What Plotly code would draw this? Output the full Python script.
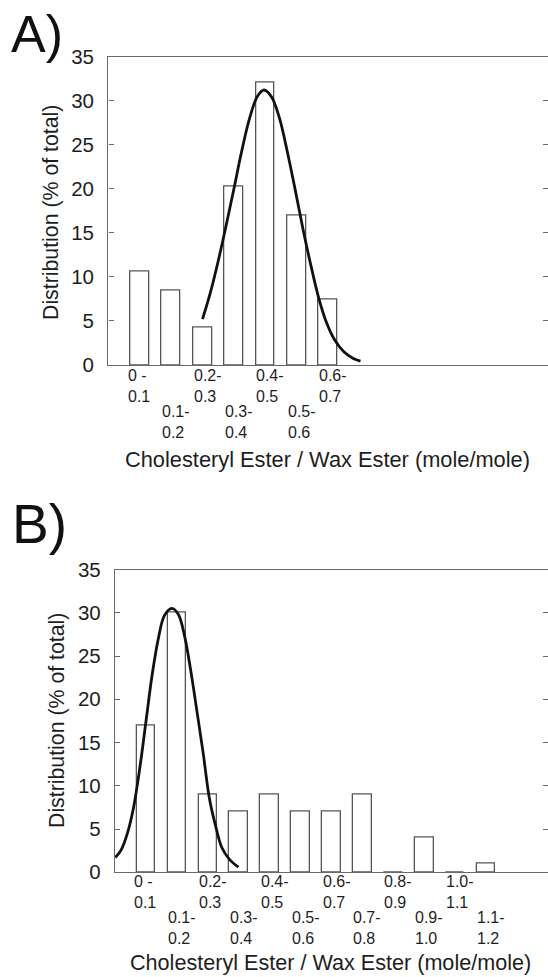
import plotly.graph_objects as go

# ---------------- data ----------------
bin_labels_a = ["0 -<br>0.1", "0.1-<br>0.2", "0.2-<br>0.3", "0.3-<br>0.4",
                "0.4-<br>0.5", "0.5-<br>0.6", "0.6-<br>0.7"]
bin_centers_a = [0.05, 0.15, 0.25, 0.35, 0.45, 0.55, 0.65]
dist_a = [10.6, 8.5, 4.2, 20.2, 32.0, 17.0, 7.4]

fit_x_a = [0.250, 0.275, 0.300, 0.325, 0.350, 0.375, 0.400, 0.425, 0.446, 0.470,
           0.495, 0.520, 0.545, 0.570, 0.595, 0.620, 0.645, 0.670, 0.700, 0.730, 0.753]
fit_y_a = [5.2, 8.2, 11.8, 15.8, 20.0, 24.3, 28.0, 30.5, 31.2, 30.4,
           28.0, 24.2, 19.9, 15.4, 11.3, 7.6, 4.8, 2.9, 1.5, 0.75, 0.45]

bin_labels_b = ["0 -<br>0.1", "0.1-<br>0.2", "0.2-<br>0.3", "0.3-<br>0.4",
                "0.4-<br>0.5", "0.5-<br>0.6", "0.6-<br>0.7", "0.7-<br>0.8",
                "0.8-<br>0.9", "0.9-<br>1.0", "1.0-<br>1.1", "1.1-<br>1.2"]
bin_centers_b = [0.05, 0.15, 0.25, 0.35, 0.45, 0.55, 0.65, 0.75,
                 0.85, 0.95, 1.05, 1.15]
dist_b = [17, 30, 9, 7, 9, 7, 7, 9, 0, 4, 0, 1]

fit_x_b = [-0.049, -0.030, -0.010, 0.010, 0.030, 0.050, 0.070, 0.090, 0.110, 0.134,
           0.155, 0.175, 0.195, 0.215, 0.235, 0.255, 0.275, 0.295, 0.320, 0.349]
fit_y_b = [1.7, 2.6, 4.5, 7.5, 12.0, 17.4, 22.8, 27.0, 29.7, 30.5,
           29.8, 27.3, 23.3, 18.6, 13.8, 8.6, 5.4, 2.9, 1.5, 0.6]

y_ticks = [0, 5, 10, 15, 20, 25, 30, 35]
x_title = "Cholesteryl Ester / Wax Ester (mole/mole)"
y_title = "Distribution (% of total)"

# ---------------- figure ----------------
W, H = 548, 977
FONT = "Liberation Sans, Arial, sans-serif"
FRAME = "#6a6a6a"
BAR_EDGE = "#555555"
TXT = "#1e1e1e"

def px(p):
    """page x pixel -> paper fraction"""
    return p / W

def py(p):
    """page y pixel -> paper fraction"""
    return 1 - p / H

fig = go.Figure()

for xs, ys, ax in [(bin_centers_a, dist_a, ""), (bin_centers_b, dist_b, "2")]:
    fig.add_trace(go.Bar(x=xs, y=ys, width=0.06, xaxis="x" + ax, yaxis="y" + ax,
                         marker=dict(color="white", line=dict(color=BAR_EDGE, width=1.3)),
                         showlegend=False, hoverinfo="skip"))

for xs, ys, ax in [(fit_x_a, fit_y_a, ""), (fit_x_b, fit_y_b, "2")]:
    fig.add_trace(go.Scatter(x=xs, y=ys, mode="lines", xaxis="x" + ax, yaxis="y" + ax,
                             line=dict(color="#111111", width=2.8, shape="spline", smoothing=1.0),
                             showlegend=False, hoverinfo="skip"))

xcommon = dict(range=[-0.05, 1.35], showline=True, mirror=True, linecolor=FRAME,
               linewidth=1.4, ticks="", showticklabels=False, showgrid=False,
               zeroline=False, fixedrange=True, automargin=False)
ycommon = dict(range=[0, 35], tickvals=y_ticks, showline=True, mirror="ticks",
               linecolor=FRAME, linewidth=1.4, ticks="inside", ticklen=5,
               tickcolor=FRAME, tickwidth=1.2, showgrid=False, zeroline=False,
               ticklabelstandoff=9, automargin=False,
               tickfont=dict(family=FONT, size=20.5, color=TXT), fixedrange=True)

# panel geometry (page pixels)
A_left, A_top, A_bot = 108.3, 56.5, 365.0
B_left, B_top, B_bot = 115.0, 569.5, 872.3

fig.update_layout(
    width=W, height=H,
    margin=dict(l=0, r=0, t=0, b=0, pad=0, autoexpand=False),
    paper_bgcolor="white", plot_bgcolor="white",
    bargap=0,
    xaxis=dict(domain=[px(A_left), 1.0], anchor="y", **xcommon),
    yaxis=dict(domain=[py(A_bot), py(A_top)], anchor="x", **ycommon),
    xaxis2=dict(domain=[px(B_left), 1.0], anchor="y2", **xcommon),
    yaxis2=dict(domain=[py(B_bot), py(B_top)], anchor="x2", **ycommon),
    font=dict(family=FONT, color=TXT),
)

annotations = []

def add_cat_labels(labels, centers, xref, row1_px, row2_px):
    for i, (lab, c) in enumerate(zip(labels, centers)):
        yy = row1_px if i % 2 == 0 else row2_px
        annotations.append(dict(
            x=c, xref=xref, y=py(yy), yref="paper", text=lab, showarrow=False,
            xanchor="left", yanchor="middle", align="left",
            xshift=-14 if i == 0 else -11,
            font=dict(family=FONT, size=16, color=TXT)))

add_cat_labels(bin_labels_a, bin_centers_a, "x", 385.8, 422.0)
add_cat_labels(bin_labels_b, bin_centers_b, "x2", 892.0, 928.0)

# axis titles
annotations.append(dict(x=px(327), y=py(459), xref="paper", yref="paper", text=x_title,
                        showarrow=False, xanchor="center", yanchor="middle",
                        font=dict(family=FONT, size=21.8, color=TXT)))
annotations.append(dict(x=px(330), y=py(962.5), xref="paper", yref="paper", text=x_title,
                        showarrow=False, xanchor="center", yanchor="middle",
                        font=dict(family=FONT, size=21.6, color=TXT)))
annotations.append(dict(x=px(51), y=py(213), xref="paper", yref="paper", text=y_title,
                        showarrow=False, xanchor="center", yanchor="middle", textangle=-90,
                        font=dict(family=FONT, size=21.3, color=TXT)))
annotations.append(dict(x=px(57), y=py(721), xref="paper", yref="paper", text=y_title,
                        showarrow=False, xanchor="center", yanchor="middle", textangle=-90,
                        font=dict(family=FONT, size=21.3, color=TXT)))

# panel letters
annotations.append(dict(x=px(9), y=py(34), xref="paper", yref="paper", text="A)",
                        showarrow=False, xanchor="left", yanchor="middle",
                        font=dict(family=FONT, size=52, color="#111111")))
annotations.append(dict(x=px(10), y=py(524), xref="paper", yref="paper", text="B)",
                        showarrow=False, xanchor="left", yanchor="middle",
                        font=dict(family=FONT, size=55, color="#111111")))

fig.update_layout(annotations=annotations)

fig.write_html("out.html", config={"displayModeBar": False},
               post_script="document.body.style.margin='0px';"
                           "document.body.style.overflow='hidden';")
